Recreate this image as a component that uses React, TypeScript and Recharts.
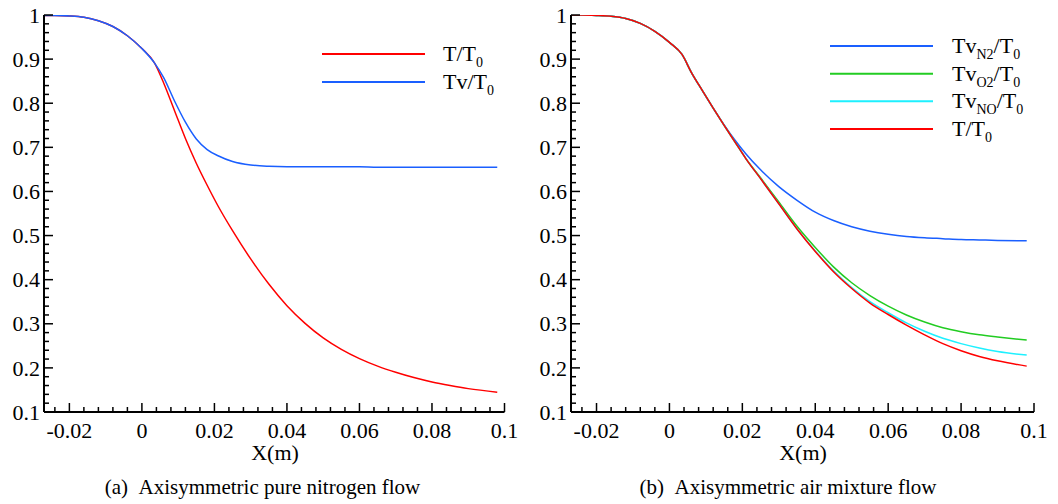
import { LineChart, Line, XAxis, YAxis } from 'recharts';

const FONT = '"Liberation Serif", "Times New Roman", serif';

// shared x positions (m)
const xGrid = [-0.027, -0.024, -0.02, -0.016, -0.012, -0.008, -0.004, 0, 0.0035, 0.006, 0.009, 0.012, 0.015, 0.018, 0.021, 0.025, 0.03, 0.035, 0.04, 0.045, 0.05, 0.055, 0.06, 0.065, 0.07, 0.075, 0.08, 0.085, 0.09, 0.098];

// (a) pure nitrogen
const leftT = [0.999, 0.999, 0.998, 0.995, 0.987, 0.974, 0.953, 0.924, 0.891, 0.846, 0.783, 0.72, 0.664, 0.614, 0.567, 0.511, 0.447, 0.39, 0.341, 0.301, 0.268, 0.242, 0.221, 0.204, 0.19, 0.178, 0.168, 0.16, 0.153, 0.145];
const leftTv = [0.999, 0.999, 0.998, 0.995, 0.987, 0.974, 0.953, 0.924, 0.891, 0.858, 0.805, 0.757, 0.719, 0.695, 0.681, 0.668, 0.66, 0.657, 0.656, 0.656, 0.656, 0.656, 0.656, 0.655, 0.655, 0.655, 0.655, 0.655, 0.655, 0.655];

// (b) air mixture
const rightT = [1.0, 1.0, 0.999, 0.997, 0.992, 0.981, 0.963, 0.938, 0.91, 0.87, 0.829, 0.789, 0.75, 0.712, 0.674, 0.629, 0.572, 0.515, 0.464, 0.418, 0.38, 0.347, 0.321, 0.297, 0.275, 0.255, 0.239, 0.226, 0.216, 0.204];
const rightTvN2 = [1.0, 1.0, 0.999, 0.997, 0.992, 0.981, 0.963, 0.938, 0.91, 0.87, 0.829, 0.789, 0.751, 0.716, 0.685, 0.649, 0.611, 0.58, 0.553, 0.534, 0.52, 0.51, 0.503, 0.498, 0.495, 0.493, 0.491, 0.49, 0.489, 0.488];
const rightTvO2 = [1.0, 1.0, 0.999, 0.997, 0.992, 0.981, 0.963, 0.938, 0.91, 0.87, 0.829, 0.789, 0.75, 0.712, 0.674, 0.631, 0.576, 0.521, 0.473, 0.429, 0.393, 0.364, 0.34, 0.32, 0.304, 0.291, 0.282, 0.275, 0.27, 0.263];
const rightTvNO = [1.0, 1.0, 0.999, 0.997, 0.992, 0.981, 0.963, 0.938, 0.91, 0.87, 0.829, 0.789, 0.75, 0.712, 0.674, 0.629, 0.572, 0.515, 0.465, 0.42, 0.382, 0.35, 0.325, 0.302, 0.283, 0.267, 0.255, 0.245, 0.237, 0.229];

const xMajor = [-0.02, 0, 0.02, 0.04, 0.06, 0.08, 0.1];
const xLabels = ['-0.02', '0', '0.02', '0.04', '0.06', '0.08', '0.1'];
const xMinor = [-0.024, -0.016, -0.012, -0.008, -0.004, 0.004, 0.008, 0.012, 0.016, 0.024, 0.028, 0.032, 0.036, 0.044, 0.048, 0.052, 0.056, 0.064, 0.068, 0.072, 0.076, 0.084, 0.088, 0.092, 0.096];
const yMajor = [0.1, 0.2, 0.3, 0.4, 0.5, 0.6, 0.7, 0.8, 0.9, 1];
const yLabels = ['0.1', '0.2', '0.3', '0.4', '0.5', '0.6', '0.7', '0.8', '0.9', '1'];
const yMinor = [0.12, 0.14, 0.16, 0.18, 0.22, 0.24, 0.26, 0.28, 0.32, 0.34, 0.36, 0.38, 0.42, 0.44, 0.46, 0.48, 0.52, 0.54, 0.56, 0.58, 0.62, 0.64, 0.66, 0.68, 0.72, 0.74, 0.76, 0.78, 0.82, 0.84, 0.86, 0.88, 0.92, 0.94, 0.96, 0.98];

const xTicks = [...xMajor, ...xMinor].sort((a, b) => a - b);
const yTicks = [...yMajor, ...yMinor].sort((a, b) => a - b);

const leftData = xGrid.map((x, i) => ({ x, t: leftT[i], tv: leftTv[i] }));
const rightData = xGrid.map((x, i) => ({
    x,
    t: rightT[i],
    n2: rightTvN2[i],
    o2: rightTvO2[i],
    no: rightTvNO[i],
}));

const findIdx = (arr: number[], v: number) => arr.findIndex((m) => Math.abs(m - v) < 1e-9);

const XTick = ({ x, y, payload }: any) => {
    const i = findIdx(xMajor, payload.value);
    const major = i >= 0;
    return (
        <g>
            <line x1={x} x2={x} y1={y} y2={y - (major ? 9 : 5)} stroke="#000" strokeWidth={1.5} />
            {major && (
                <text x={x} y={y + 26} textAnchor="middle" fontFamily={FONT} fontSize={22} fill="#000">
                    {xLabels[i]}
                </text>
            )}
        </g>
    );
};

const YTick = ({ x, y, payload }: any) => {
    const i = findIdx(yMajor, payload.value);
    const major = i >= 0;
    return (
        <g>
            <line x1={x} x2={x + (major ? 9 : 5)} y1={y} y2={y} stroke="#000" strokeWidth={1.5} />
            {major && (
                <text x={x - 4} y={y} dy="0.35em" textAnchor="end" fontFamily={FONT} fontSize={22} fill="#000">
                    {yLabels[i]}
                </text>
            )}
        </g>
    );
};

const axisLine = { stroke: '#000', strokeWidth: 2 };

const RED = '#ff0000';
const BLUE = '#1a5fff';
const GREEN = '#22cc22';
const CYAN = '#1ef0ff';

const Sub = ({ children }: any) => (
    <tspan fontSize={14} dy={6}>
        {children}
    </tspan>
);

export default function App() {
    const xAxisProps = {
        type: 'number' as const,
        dataKey: 'x',
        domain: [-0.027, 0.1],
        ticks: xTicks,
        interval: 0,
        tick: <XTick />,
        tickLine: false,
        tickSize: 0,
        tickMargin: 0,
        axisLine,
        height: 30,
        allowDataOverflow: true,
    };
    const yAxisProps = {
        type: 'number' as const,
        domain: [0.1, 1],
        ticks: yTicks,
        interval: 0,
        tick: <YTick />,
        tickLine: false,
        tickSize: 0,
        tickMargin: 0,
        axisLine,
        allowDataOverflow: true,
    };

    return (
        <div style={{ position: 'absolute', left: 0, top: 0, width: 1058, height: 504, background: '#fff' }}>
            <div style={{ position: 'absolute', left: 0, top: 0 }}>
                <LineChart width={530} height={504} data={leftData} margin={{ top: 15, right: 25.5, bottom: 62, left: 0 }}>
                    <XAxis {...xAxisProps} />
                    <YAxis {...yAxisProps} width={44} />
                    <Line type="monotone" dataKey="t" stroke={RED} strokeWidth={1.5} dot={false} isAnimationActive={false} />
                    <Line type="monotone" dataKey="tv" stroke={BLUE} strokeWidth={1.5} dot={false} isAnimationActive={false} />
                </LineChart>
            </div>
            <div style={{ position: 'absolute', left: 529, top: 0 }}>
                <LineChart width={529} height={504} data={rightData} margin={{ top: 15, right: 24, bottom: 62, left: 0 }}>
                    <XAxis {...xAxisProps} />
                    <YAxis {...yAxisProps} width={42} />
                    <Line type="monotone" dataKey="n2" stroke={BLUE} strokeWidth={1.5} dot={false} isAnimationActive={false} />
                    <Line type="monotone" dataKey="o2" stroke={GREEN} strokeWidth={1.5} dot={false} isAnimationActive={false} />
                    <Line type="monotone" dataKey="no" stroke={CYAN} strokeWidth={1.5} dot={false} isAnimationActive={false} />
                    <Line type="monotone" dataKey="t" stroke={RED} strokeWidth={1.5} dot={false} isAnimationActive={false} />
                </LineChart>
            </div>
            <svg
                width={1058}
                height={504}
                style={{ position: 'absolute', left: 0, top: 0, pointerEvents: 'none' }}
                fontFamily={FONT}
                fill="#000"
            >
                {/* legend (a) */}
                <line x1={322} x2={425} y1={54} y2={54} stroke={RED} strokeWidth={2} />
                <text x={443} y={60.5} fontSize={22}>
                    T/T<Sub>0</Sub>
                </text>
                <line x1={322} x2={425} y1={82} y2={82} stroke={BLUE} strokeWidth={2} />
                <text x={443} y={88.5} fontSize={22}>
                    Tv/T<Sub>0</Sub>
                </text>

                {/* legend (b) */}
                <line x1={830} x2={933} y1={46} y2={46} stroke={BLUE} strokeWidth={2} />
                <text x={952} y={53} fontSize={22}>
                    Tv<Sub>N2</Sub>
                    <tspan dy={-6}>/T</tspan>
                    <Sub>0</Sub>
                </text>
                <line x1={830} x2={933} y1={73.7} y2={73.7} stroke={GREEN} strokeWidth={2} />
                <text x={952} y={80.7} fontSize={22}>
                    Tv<Sub>O2</Sub>
                    <tspan dy={-6}>/T</tspan>
                    <Sub>0</Sub>
                </text>
                <line x1={830} x2={933} y1={101.3} y2={101.3} stroke={CYAN} strokeWidth={2} />
                <text x={952} y={108.3} fontSize={22}>
                    Tv<Sub>NO</Sub>
                    <tspan dy={-6}>/T</tspan>
                    <Sub>0</Sub>
                </text>
                <line x1={830} x2={933} y1={129} y2={129} stroke={RED} strokeWidth={2} />
                <text x={952} y={136} fontSize={22}>
                    T/T<Sub>0</Sub>
                </text>

                {/* axis titles */}
                <text x={275} y={460} fontSize={22} textAnchor="middle">
                    X(m)
                </text>
                <text x={803} y={460} fontSize={22} textAnchor="middle">
                    X(m)
                </text>

                {/* captions */}
                <text x={262.5} y={494} fontSize={21} textAnchor="middle">
                    {'(a)\u00a0\u00a0Axisymmetric pure nitrogen flow'}
                </text>
                <text x={788} y={494} fontSize={21} textAnchor="middle">
                    {'(b)\u00a0\u00a0Axisymmetric air mixture flow'}
                </text>
            </svg>
        </div>
    );
}
